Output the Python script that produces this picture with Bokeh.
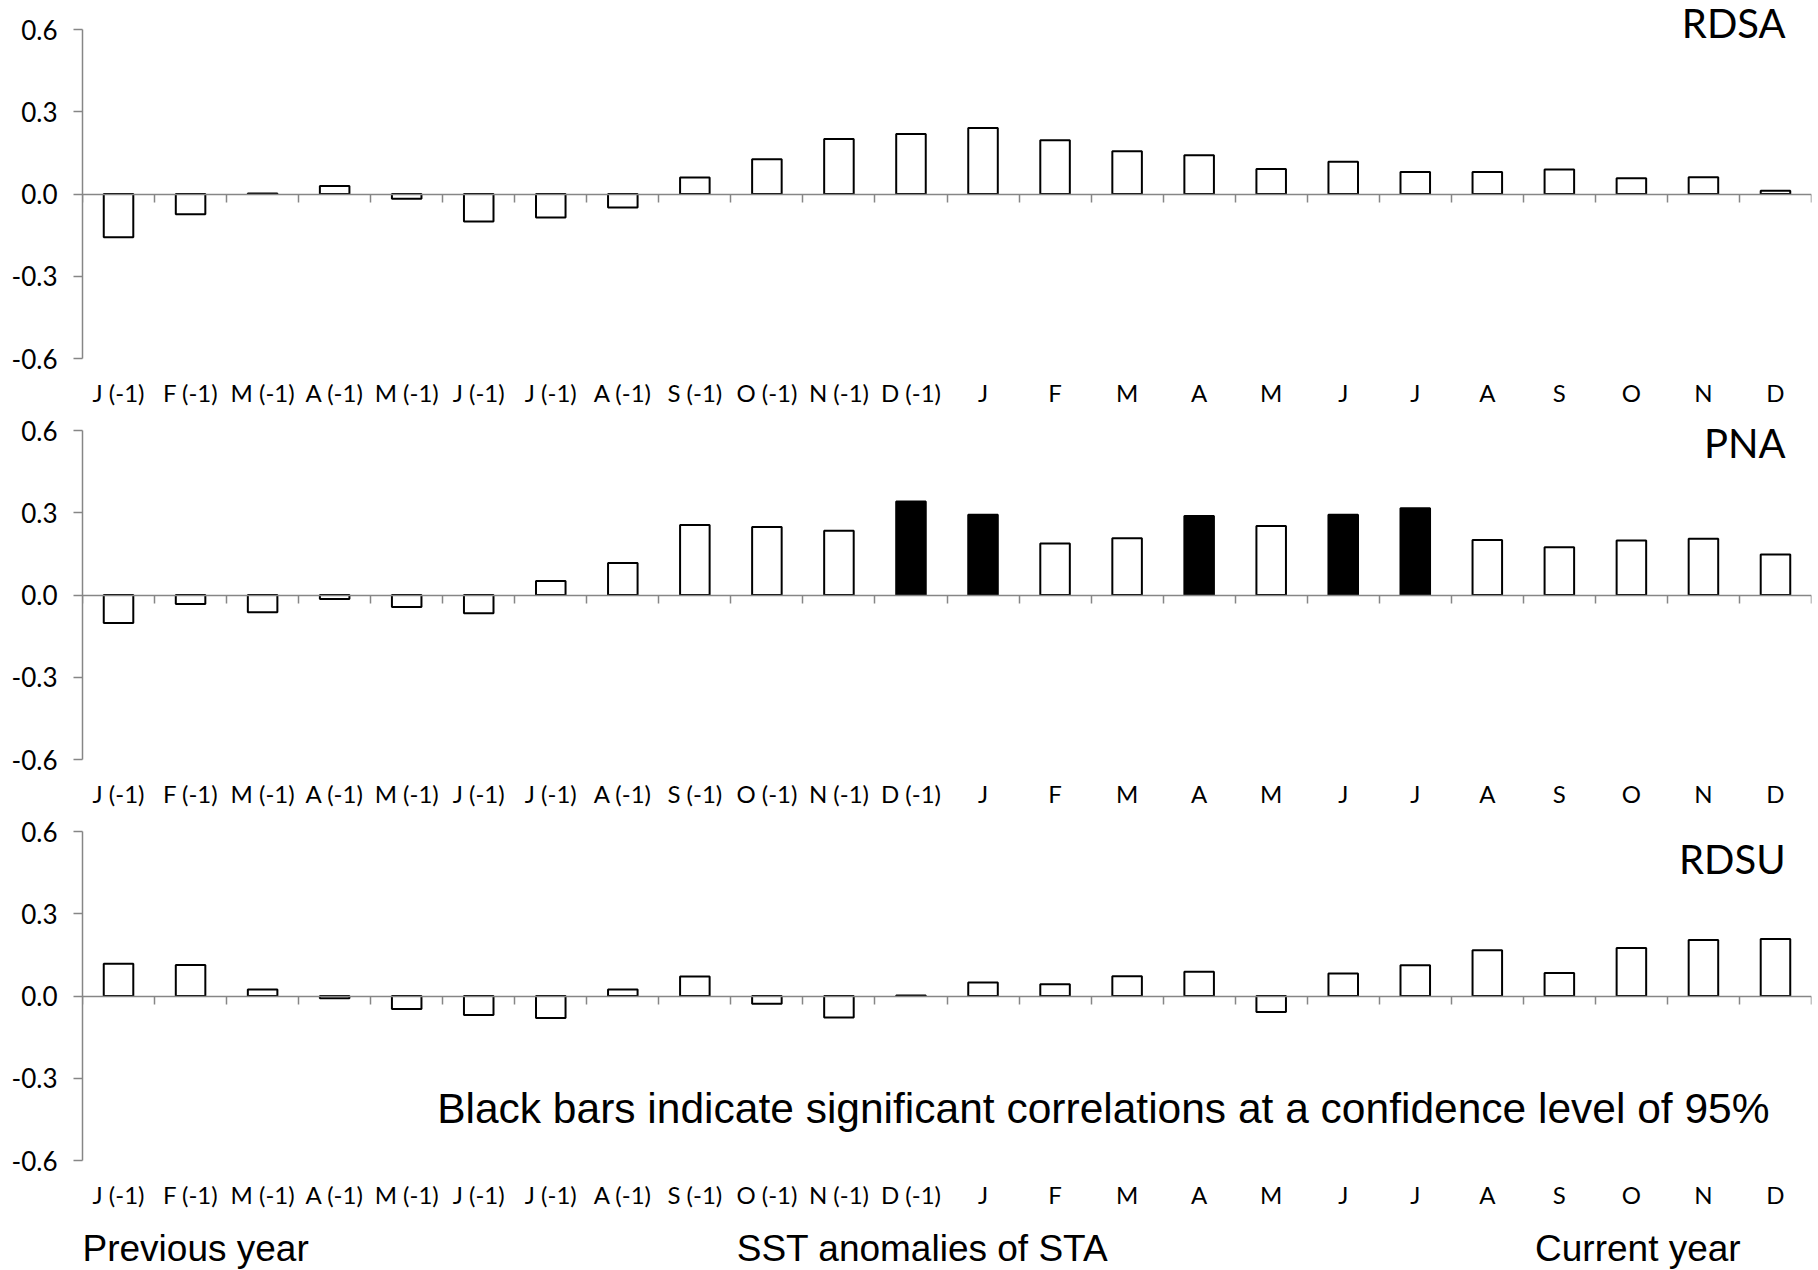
from bokeh.plotting import figure
from bokeh.models import Range1d, FixedTicker, LinearAxis, Label, ColumnDataSource, PrintfTickFormatter
from bokeh.layouts import column
from bokeh.embed import file_html
from bokeh.resources import INLINE

# ---------------- data ----------------
months = ["J (-1)", "F (-1)", "M (-1)", "A (-1)", "M (-1)", "J (-1)", "J (-1)", "A (-1)",
          "S (-1)", "O (-1)", "N (-1)", "D (-1)", "J", "F", "M", "A", "M", "J", "J", "A",
          "S", "O", "N", "D"]

rdsa = [-0.158, -0.074, 0.002, 0.029, -0.017, -0.100, -0.086, -0.049, 0.060, 0.127, 0.201, 0.219,
        0.241, 0.196, 0.156, 0.141, 0.091, 0.118, 0.080, 0.080, 0.089, 0.057, 0.061, 0.012]
pna = [-0.102, -0.033, -0.063, -0.015, -0.044, -0.067, 0.051, 0.117, 0.255, 0.248, 0.234, 0.341,
       0.293, 0.188, 0.207, 0.288, 0.252, 0.293, 0.316, 0.201, 0.174, 0.199, 0.205, 0.148]
rdsu = [0.118, 0.113, 0.024, -0.008, -0.047, -0.069, -0.080, 0.024, 0.071, -0.028, -0.078, 0.002,
        0.049, 0.043, 0.072, 0.088, -0.058, 0.082, 0.112, 0.167, 0.084, 0.175, 0.204, 0.208]

rdsa_sig = [False] * 24
pna_sig = [False, False, False, False, False, False, False, False, False, False, False, True,
           True, False, False, True, False, True, True, False, False, False, False, False]
rdsu_sig = [False] * 24

y_ticks = [-0.6, -0.3, 0.0, 0.3, 0.6]
panel_names = ["RDSA", "PNA", "RDSU"]

note_text = "Black bars indicate significant correlations at a confidence level of 95%"
bottom_texts = ["Previous year", "SST anomalies of STA", "Current year"]

# ---------------- style / layout ----------------
AXIS_GRAY = "#868686"
TICK_FONT = "Lato"
NOTE_FONT = "Liberation Sans"
W = 1818
LEFT = 82
RIGHT = 7
FRAME_H = 329                 # pixels from -0.6 to 0.6
PX = FRAME_H / 1.2            # pixels per unit
BOTTOM = 56


def make_panel(name, values, sig, top_ext, title_y):
    frame_h = FRAME_H + top_ext
    p = figure(width=W, height=frame_h + BOTTOM,
               x_range=Range1d(-0.5, 23.5),
               y_range=Range1d(-0.6, 0.6 + top_ext / PX),
               output_backend="svg", toolbar_location=None,
               x_axis_location=None, y_axis_location=None,
               min_border_left=LEFT, min_border_right=RIGHT,
               min_border_top=0, min_border_bottom=BOTTOM)
    p.outline_line_color = None
    p.xgrid.visible = False
    p.ygrid.visible = False
    p.background_fill_color = "white"
    p.border_fill_color = "white"

    # y axis (only from -0.6 to 0.6)
    yaxis = LinearAxis(ticker=FixedTicker(ticks=y_ticks), bounds=(-0.6, 0.6),
                       formatter=PrintfTickFormatter(format="%.1f"))
    yaxis.axis_line_color = AXIS_GRAY
    yaxis.axis_line_width = 1.5
    yaxis.major_tick_line_color = AXIS_GRAY
    yaxis.major_tick_line_width = 1.5
    yaxis.major_tick_out = 9
    yaxis.major_tick_in = 0
    yaxis.minor_tick_line_color = None
    yaxis.major_label_standoff = 16
    yaxis.major_label_text_font = TICK_FONT
    yaxis.major_label_text_font_size = "26px"
    yaxis.major_label_text_color = "black"
    p.add_layout(yaxis, "left")

    # category labels at the bottom
    idx = list(range(len(months)))
    cat_axis = LinearAxis(ticker=FixedTicker(ticks=idx),
                          major_label_overrides={i: m for i, m in zip(idx, months)})
    cat_axis.axis_line_color = None
    cat_axis.major_tick_line_color = None
    cat_axis.minor_tick_line_color = None
    cat_axis.major_tick_out = 0
    cat_axis.major_tick_in = 0
    cat_axis.major_label_standoff = 19
    cat_axis.major_label_text_font = TICK_FONT
    cat_axis.major_label_text_font_size = "24px"
    cat_axis.major_label_text_color = "black"
    p.add_layout(cat_axis, "below")

    # horizontal axis line at zero with ticks between categories
    bounds = [i - 0.5 for i in range(len(months) + 1)]
    zero_axis = LinearAxis(ticker=FixedTicker(ticks=bounds), fixed_location=0,
                           major_label_overrides={b: "" for b in bounds})
    zero_axis.axis_line_color = AXIS_GRAY
    zero_axis.axis_line_width = 1.5
    zero_axis.major_tick_line_color = AXIS_GRAY
    zero_axis.major_tick_line_width = 1.5
    zero_axis.major_tick_in = 8
    zero_axis.major_tick_out = 0
    zero_axis.minor_tick_line_color = None
    zero_axis.major_label_standoff = 0
    p.add_layout(zero_axis, "above")

    src = ColumnDataSource(dict(x=idx, top=values,
                                fill=["black" if s else "white" for s in sig]))
    p.vbar(x="x", top="top", bottom=0, width=0.41, source=src,
           fill_color="fill", line_color="black", line_width=2)

    p.add_layout(Label(x=23.14, y=title_y, text=name, text_align="right",
                       text_baseline="alphabetic", text_font=TICK_FONT,
                       text_font_size="40px", text_color="black"))
    return p


p1 = make_panel(panel_names[0], rdsa, rdsa_sig, 29, 0.625)
p2 = make_panel(panel_names[1], pna, pna_sig, 16, 0.556)
p3 = make_panel(panel_names[2], rdsu, rdsu_sig, 16, 0.500)

p3.add_layout(Label(x=13.67, y=-0.410, text=note_text, text_align="center",
                    text_baseline="alphabetic", text_font=NOTE_FONT,
                    text_font_size="42.5px", text_color="black"))

# strip with the captions under the last panel (frame aligned with the panels)
foot_h = 1270 - (p1.height + p2.height + p3.height)
p4 = figure(width=W, height=foot_h, x_range=Range1d(-0.5, 23.5), y_range=Range1d(0, foot_h),
            output_backend="svg", toolbar_location=None,
            x_axis_location=None, y_axis_location=None,
            min_border_left=LEFT, min_border_right=RIGHT, min_border_top=0, min_border_bottom=0)
p4.outline_line_color = None
p4.xgrid.visible = False
p4.ygrid.visible = False
for txt, xpos, align in zip(bottom_texts, [-0.5, 11.16, 21.09], ["left", "center", "center"]):
    p4.add_layout(Label(x=xpos, y=22, text=txt, text_align=align,
                        text_baseline="alphabetic", text_font=NOTE_FONT,
                        text_font_size="37px", text_color="black"))

layout = column(p1, p2, p3, p4, spacing=0)
open("out.html", "w").write(file_html(layout, INLINE))
